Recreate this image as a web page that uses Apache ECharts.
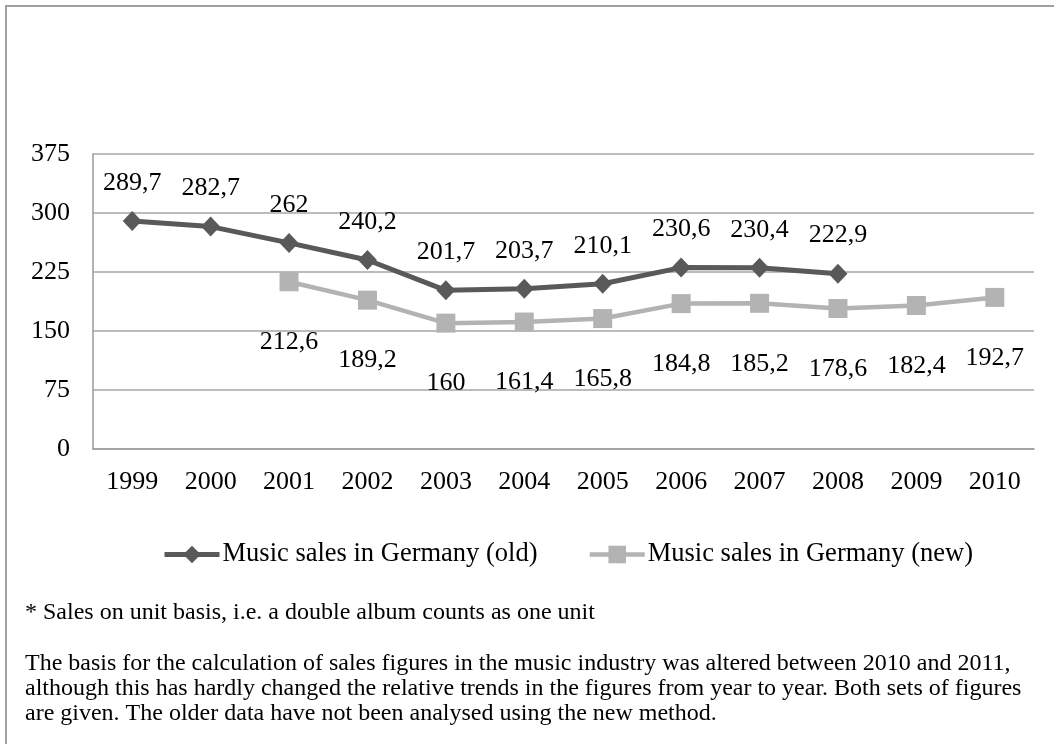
<!DOCTYPE html>
<html>
<head>
<meta charset="utf-8">
<title>Music sales in Germany</title>
<script src="https://cdn.jsdelivr.net/npm/echarts@6/dist/echarts.min.js"></script>
<style>
  html, body { margin: 0; padding: 0; background: #fff; }
  #frame {
    position: absolute; left: 5px; top: 5px; width: 1060px; height: 750px;
    border-top: 2px solid #a0a0a0; border-left: 2px solid #a0a0a0;
    box-sizing: border-box; pointer-events: none;
  }
  #chart { width: 1054px; height: 744px; }
</style>
</head>
<body>
<div id="chart"></div>
<div id="frame"></div>
<script>
// Years on the category axis
const years = ['1999', '2000', '2001', '2002', '2003', '2004', '2005', '2006', '2007', '2008', '2009', '2010'];

// Sales counted with the old method (1999–2008)
const salesOld = [289.7, 282.7, 262, 240.2, 201.7, 203.7, 210.1, 230.6, 230.4, 222.9, null, null];

// Sales counted with the new method (2001–2010)
const salesNew = [null, null, 212.6, 189.2, 160, 161.4, 165.8, 184.8, 185.2, 178.6, 182.4, 192.7];

// Value axis ticks
const yTicks = [0, 75, 150, 225, 300, 375];

const seriesNames = ['Music sales in Germany (old)', 'Music sales in Germany (new)'];

const noteUnit = '* Sales on unit basis, i.e. a double album counts as one unit';
const noteBasis = [
  'The basis for the calculation of sales figures in the music industry was altered between 2010 and 2011,',
  'although this has hardly changed the relative trends in the figures from year to year. Both sets of figures',
  'are given. The older data have not been analysed using the new method.'
];

const serif = '"Liberation Serif", "Times New Roman", serif';
const fmt = p => String(p.value).replace('.', ',');

const colorOld = '#595959';
const colorNew = '#b3b3b3';

const chart = echarts.init(document.getElementById('chart'), null, { renderer: 'canvas' });

chart.setOption({
  animation: false,
  backgroundColor: '#fff',
  textStyle: { fontFamily: serif, color: '#000' },
  grid: { left: 93, right: 20, top: 154, bottom: 295, containLabel: false },
  legend: {
    left: 157,
    top: 536,
    itemWidth: 55,
    itemHeight: 22,
    itemGap: 50,
    textStyle: { fontFamily: serif, fontSize: 26.5, color: '#000', padding: [0, 0, 0, -2] },
    data: [
      { name: seriesNames[0], lineStyle: { color: colorOld, width: 5 } },
      { name: seriesNames[1], lineStyle: { color: colorNew, width: 4.5 } }
    ]
  },
  xAxis: {
    type: 'category',
    data: years,
    boundaryGap: true,
    axisLine: { show: true, lineStyle: { color: '#9a9a9a', width: 1.5 } },
    axisTick: { show: false },
    axisLabel: { fontFamily: serif, fontSize: 26, color: '#000', margin: 20 }
  },
  yAxis: {
    type: 'value',
    min: yTicks[0],
    max: yTicks[yTicks.length - 1],
    interval: yTicks[1] - yTicks[0],
    axisLine: { show: true, lineStyle: { color: '#9a9a9a', width: 1.5 } },
    axisTick: { show: false },
    splitLine: { show: true, lineStyle: { color: '#a6a6a6', width: 1.5 } },
    axisLabel: { fontFamily: serif, fontSize: 26, color: '#000', margin: 23 }
  },
  series: [
    {
      name: seriesNames[0],
      type: 'line',
      data: salesOld,
      connectNulls: false,
      symbol: 'diamond',
      symbolSize: [19, 20],
      showAllSymbol: true,
      lineStyle: { color: colorOld, width: 5 },
      itemStyle: { color: colorOld },
      label: {
        show: true, position: 'top', distance: 15,
        fontFamily: serif, fontSize: 26, color: '#000', formatter: fmt
      },
      z: 3
    },
    {
      name: seriesNames[1],
      type: 'line',
      data: salesNew,
      connectNulls: false,
      symbol: 'rect',
      symbolSize: 19,
      showAllSymbol: true,
      lineStyle: { color: colorNew, width: 4.5 },
      itemStyle: { color: colorNew },
      label: {
        show: true, position: 'bottom', distance: 38,
        fontFamily: serif, fontSize: 26, color: '#000', formatter: fmt
      },
      z: 2
    }
  ],
  graphic: [
    {
      type: 'text', left: 25, top: 601,
      style: { text: noteUnit, font: '24px ' + serif, fill: '#000' }
    },
    {
      type: 'text', left: 25, top: 651,
      style: { text: noteBasis.join('\n'), font: '24px ' + serif, lineHeight: 25, fill: '#000' }
    }
  ]
});
</script>
</body>
</html>
